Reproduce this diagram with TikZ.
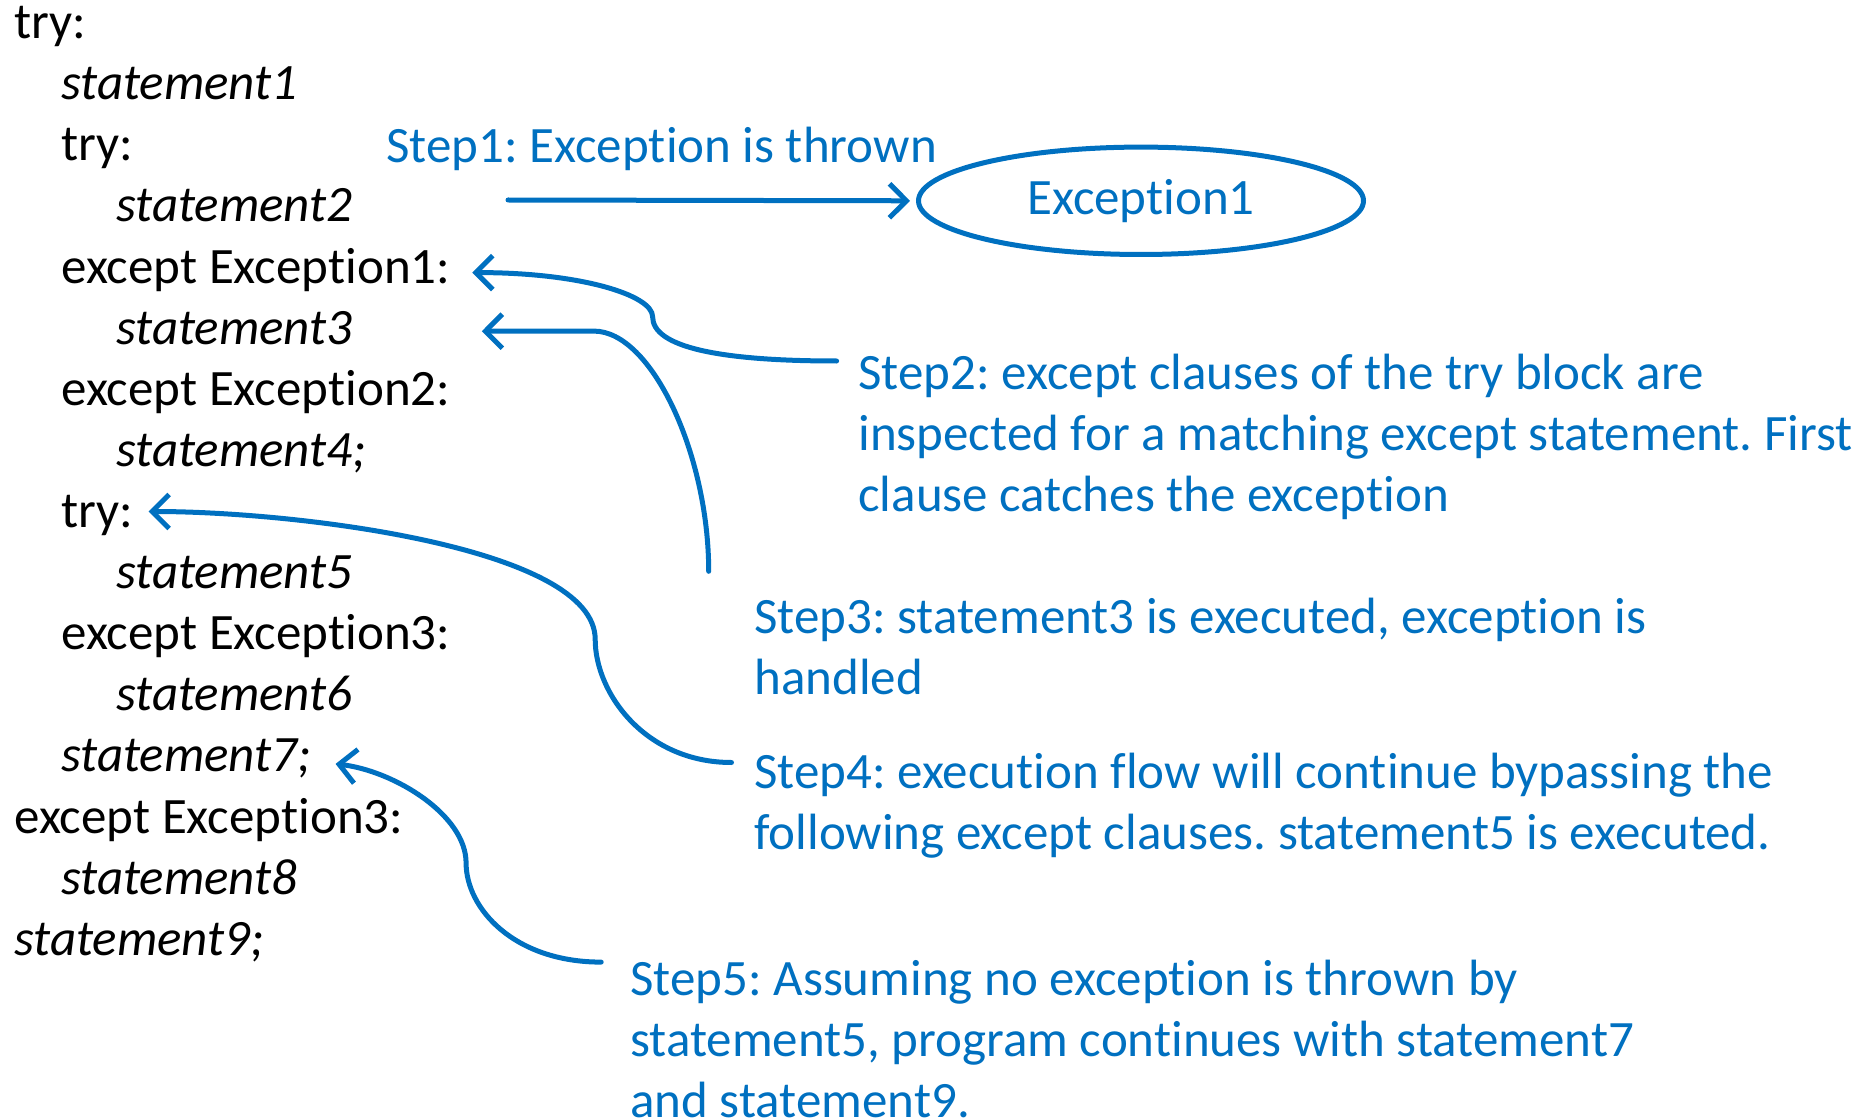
\documentclass[tikz,border=0pt]{standalone}
\usepackage{fontspec}
\setmainfont{Carlito}[Ligatures=NoCommon]
\usetikzlibrary{arrows.meta,shapes.geometric,calc}
\definecolor{stepblue}{HTML}{0070C0}
\frenchspacing
\begin{document}
\begin{tikzpicture}[x=0.5pt,y=-0.5pt,
  code/.style={anchor=base west, inner sep=0pt, font=\fontsize{25.5}{30.55}\selectfont\frenchspacing, text=black},
  codeit/.style={anchor=base west, inner sep=0pt, font=\fontsize{25.5}{30.55}\selectfont\itshape\frenchspacing, text=black},
  steptext/.style={anchor=base west, inner sep=0pt, font=\fontsize{25.5}{30.55}\selectfont\frenchspacing, text=stepblue},
  flow/.style={draw=stepblue, line width=2.5pt, line cap=round, -{Straight Barb[length=8.5pt,width=17pt,line width=2.5pt]}},
  excbox/.style={draw=stepblue, line width=2.5pt, ellipse, inner sep=0pt, minimum width=222.5pt, minimum height=53.7pt, text=stepblue, font=\fontsize{25.5}{30.55}\selectfont},
]
\useasboundingbox (0,0) rectangle (1874,1118);

% code listing
\node[code]   (c1)  at (14,38.7)   {try:};
\node[codeit] (c2)  at (61,99.8)   {statement1};
\node[code]   (c3)  at (61,160.9)  {try:};
\node[codeit] (c4)  at (116,222)   {statement2};
\node[code]   (c5)  at (61,283.1)  {except Exception1:};
\node[codeit] (c6)  at (116,344.2) {statement3};
\node[code]   (c7)  at (61,405.3)  {except Exception2:};
\node[codeit] (c8)  at (116,466.4) {statement4;};
\node[code]   (c9)  at (61,527.5)  {try:};
\node[codeit] (c10) at (116,588.6) {statement5};
\node[code]   (c11) at (61,649.7)  {except Exception3:};
\node[codeit] (c12) at (116,710.8) {statement6};
\node[codeit] (c13) at (61,771.9)  {statement7;};
\node[code]   (c14) at (14,833)    {except Exception3:};
\node[codeit] (c15) at (61,894.1)  {statement8};
\node[codeit] (c16) at (14,955.2)  {statement9;};

% step texts
\node[steptext] (s1) at (386,163) {Step1: Exception is thrown};
\node[steptext] (s2) at (858,389) {\begin{tabular}[t]{@{}l@{}}Step2: except clauses of the try block are\\ inspected for a matching except statement. First\\ clause catches the exception\end{tabular}};
\node[steptext] (s3) at (754,633) {\begin{tabular}[t]{@{}l@{}}Step3: statement3 is executed, exception is\\ handled\end{tabular}};
\node[steptext] (s4) at (754,788) {\begin{tabular}[t]{@{}l@{}}Step4: execution flow will continue bypassing the\\ following except clauses. statement5 is executed.\end{tabular}};
\node[steptext] (s5) at (630,995) {\begin{tabular}[t]{@{}l@{}}Step5: Assuming no exception is thrown by\\ statement5, program continues with statement7\\ and statement9.\end{tabular}};

% exception ellipse
\node[excbox] (exc) at (1141,200.8) {Exception1};

% connector ends
\coordinate (a1) at (508,200);
\coordinate (a2) at ($(s2.base west)+(-21.4,-28)$);
\coordinate (a3) at ($(s3.base west)+(-45.3,-61.7)$);
\coordinate (a4) at ($(s4.base west)+(-22.5,-25.5)$);
\coordinate (a5) at ($(s5.base west)+(-28.8,-32.9)$);
\coordinate (t2) at ($(c5.base east)+(21.5,-10.5)$);
\coordinate (t3) at ($(c5.base east |- c6.base)+(31,-13)$);
\coordinate (t4) at ($(c9.base east)+(15,-16)$);
\coordinate (t5) at ($(c13.base east)+(24,-8)$);

% connectors
\draw[flow, shorten >=3pt] (a1) -- (exc.west);
\draw[flow] (a2) .. controls (717.1,361) and (652.6,346.6) .. (652.6,316.7)
                 .. controls (652.6,295) and (580,272.5) .. (t2);
\draw[flow] (a3) .. controls (708.7,454.2) and (651.4,331.1) .. (594,331.1) -- (t3);
\draw[flow] (a4) .. controls (645.4,762.5) and (595.2,693.2) .. (595.2,639.4)
                 .. controls (595.2,548) and (298.8,511.5) .. (t4);
\draw[flow] (a5) .. controls (513.9,962.1) and (466.1,908.4) .. (466.1,863)
                 .. controls (466.1,815) and (394.4,770.9) .. (t5);
\end{tikzpicture}
\end{document}
